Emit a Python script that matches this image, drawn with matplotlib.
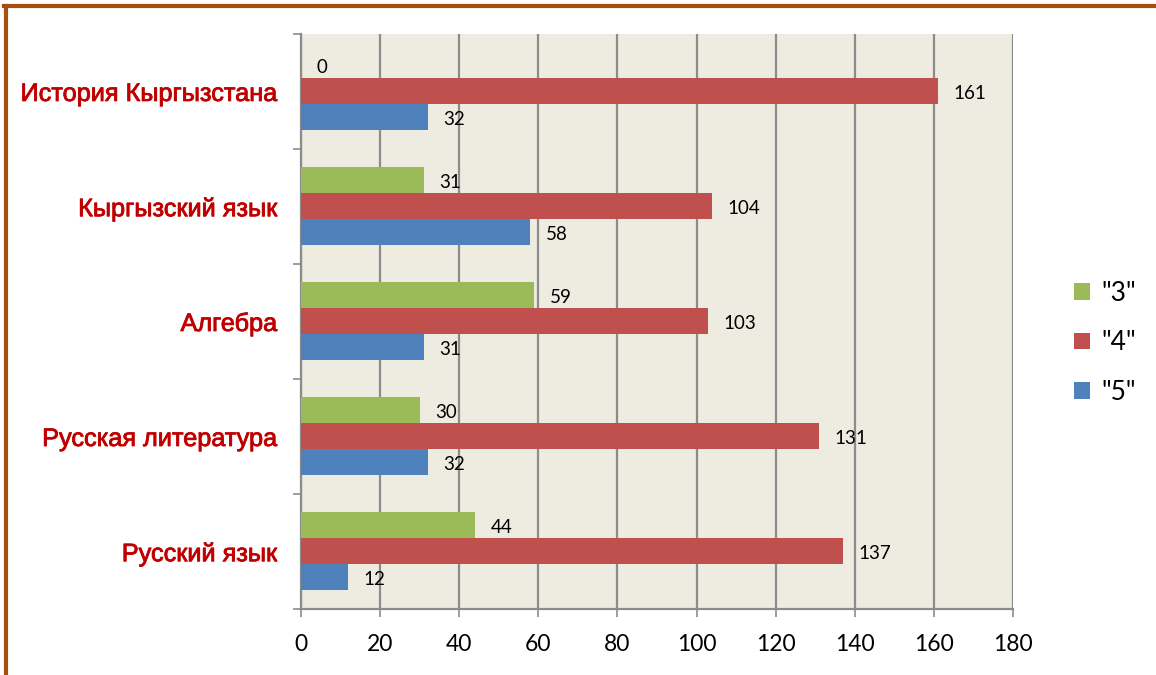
import numpy as np
import matplotlib.pyplot as plt
import matplotlib.patheffects as pe
from matplotlib.lines import Line2D

# Grades by subject (top to bottom as listed)
subjects = ["История Кыргызстана", "Кыргызский язык", "Алгебра",
            "Русская литература", "Русский язык"]
grade3 = [0, 31, 59, 30, 44]
grade4 = [161, 104, 103, 131, 137]
grade5 = [32, 58, 31, 32, 12]
x_ticks = [0, 20, 40, 60, 80, 100, 120, 140, 160, 180]

green, red, blue = "#9BBB59", "#C0504D", "#4F81BD"
grid_c = "#8C8C8C"

fig = plt.figure(figsize=(11.56, 6.75), dpi=100)
ax = fig.add_axes([0.2604, 0.0978, 0.6159, 0.8519])
ax.set_facecolor("#EEECE1")

n = len(subjects)
pos = np.arange(n)[::-1]  # first subject at the top
h = 0.226

series = [(grade3, green, '"3"', h), (grade4, red, '"4"', 0), (grade5, blue, '"5"', -h)]
for vals, col, lab, off in series:
    bars = ax.barh(pos + off, vals, height=h, color=col, label=lab, zorder=3)
    for b, v in zip(bars, vals):
        ax.annotate(str(v), (b.get_width(), b.get_y() + b.get_height() / 2),
                    xytext=(11, -1.5), textcoords="offset points",
                    ha="left", va="center", fontsize=13.5, family="Lato",
                    color="black", zorder=4)

ax.set_xlim(0, 180)
ax.set_ylim(-0.5, n - 0.5)
ax.set_xticks(x_ticks)
ax.set_xticklabels([str(t) for t in x_ticks], family="Lato", fontsize=16.5)
ax.xaxis.grid(True, color=grid_c, linewidth=1.6, zorder=1)
ax.tick_params(axis="x", length=6, width=1.2, color=grid_c, pad=12)

ax.set_yticks(pos)
ax.set_yticklabels(subjects, family="Liberation Sans", fontsize=18.2, color="#C00000")
for t in ax.get_yticklabels():
    t.set_path_effects([pe.withStroke(linewidth=0.6, foreground="#C00000")])
ax.set_yticks(np.arange(-0.5, n), minor=True)
ax.tick_params(axis="y", which="major", length=0, pad=17)
ax.tick_params(axis="y", which="minor", length=6, width=1.2, color=grid_c)

for s in ["top", "right"]:
    ax.spines[s].set_visible(False)
for s in ["left", "bottom"]:
    ax.spines[s].set_color(grid_c)
    ax.spines[s].set_linewidth(1.6)

handles, labels = ax.get_legend_handles_labels()
leg = fig.legend(handles, labels, loc="center left", bbox_to_anchor=(0.92, 0.492),
                 frameon=False, prop={"family": "Lato", "size": 19},
                 handlelength=0.6, handleheight=0.6, handletextpad=0.45,
                 labelspacing=0.93, borderaxespad=0)

# brown frame on the left and top
brown = "#A5500F"
fig.add_artist(Line2D([5.5 / 1156, 5.5 / 1156], [0, 1 - 5.5 / 675],
                      color=brown, linewidth=3, transform=fig.transFigure))
fig.add_artist(Line2D([4 / 1156, 1], [1 - 5.5 / 675, 1 - 5.5 / 675],
                      color=brown, linewidth=3, transform=fig.transFigure))

fig.savefig("out.png", dpi=100)
